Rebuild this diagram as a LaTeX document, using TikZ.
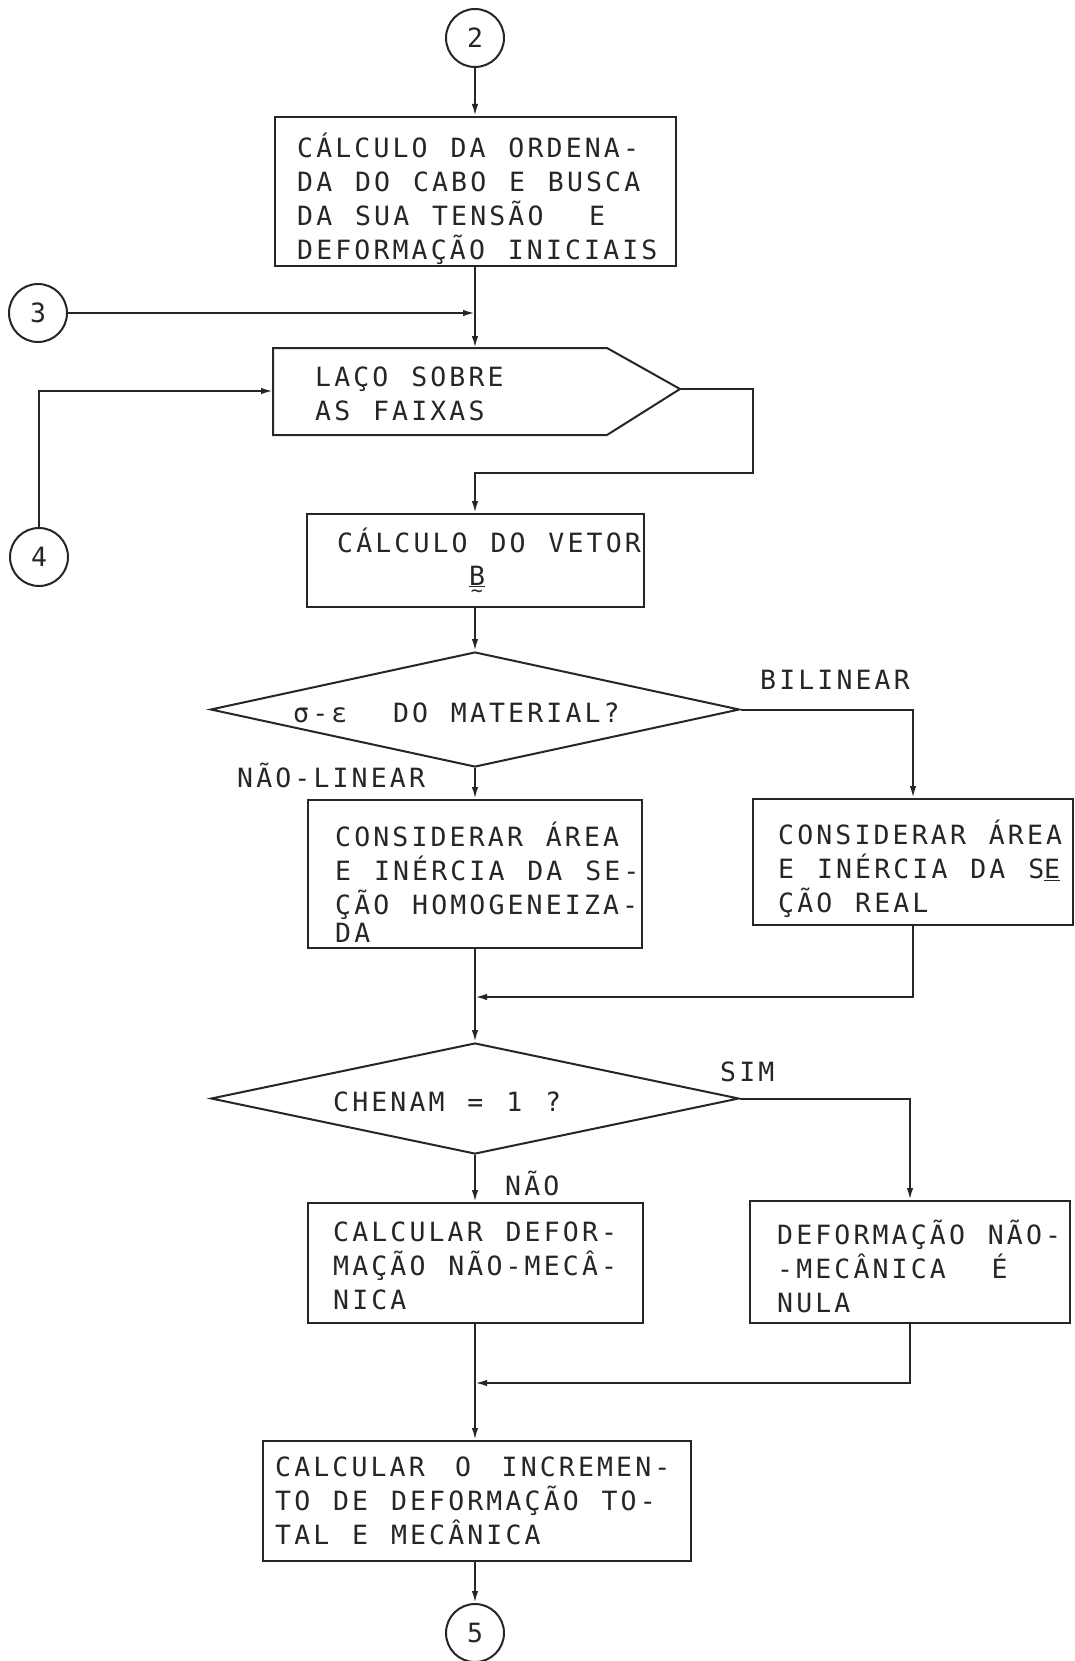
\documentclass[tikz,border=0pt]{standalone}
\usepackage{fontspec}
\newfontfamily\tw{DejaVu Sans Mono}[LetterSpace=11.85,WordSpace={1.197,0,0}]
\usetikzlibrary{shapes.geometric,arrows.meta}
\definecolor{ink}{HTML}{262626}
\begin{document}
\begin{tikzpicture}[x=1pt,y=-1pt,
  every node/.style={font={\tw\fontsize{26.5}{34}\selectfont}, text=ink},
  conn/.style={draw=ink, line width=2pt},
  arr/.style={conn, -{Latex[length=12pt,width=6.5pt]}},
  box/.style={draw=ink, line width=2pt, rectangle, inner sep=0pt},
  dec/.style={draw=ink, line width=2pt, diamond, inner sep=0pt},
  con/.style={draw=ink, line width=2pt, circle, inner sep=0pt, minimum size=58pt},
  txt/.style={anchor=west, inner sep=0pt, align=left},
  lbl/.style={anchor=west, inner sep=0pt}]
\fill[white] (0,0) rectangle (1075,1661);
\useasboundingbox (0,0) rectangle (1075,1661);

% nodes
\node[con] (c2) at (475,38) {2};
\node[box, minimum width=401, minimum height=149] (b1) at (475,191.5) {};
\node[txt] (b1t) at (297,199) {CÁLCULO DA ORDENA-\\DA DO CABO E BUSCA\\DA SUA TENSÃO\ \ E\\DEFORMAÇÃO INICIAIS};

\node[con] (c3) at (38,313) {3};

\coordinate (lacoNW) at (273,348);
\coordinate (lacoNE) at (607,348);
\coordinate (lacoE) at (680,389);
\coordinate (lacoSE) at (607,435);
\coordinate (lacoSW) at (273,435);
\coordinate (lacoN) at (475,348);
\coordinate (lacoW) at (273,391);
\draw[conn, line join=miter] (lacoNW) -- (lacoNE) -- (lacoE) -- (lacoSE) -- (lacoSW) -- cycle;
\node[txt] (lacot) at (315,393.5) {LAÇO SOBRE\\AS FAIXAS};

\node[con] (c4) at (39,557) {4};

\node[box, minimum width=337, minimum height=93] (bb) at (475,560.5) {};
\node[lbl] (bbt) at (337,540) {CÁLCULO DO VETOR};
\node[inner sep=0pt, anchor=north] (bbv) at (477,565.5) {\shortstack{\underline{B}\\{\fontsize{20}{20}\selectfont\textasciitilde}}};

\node[dec, minimum width=529, minimum height=115] (d1) at (475,709.5) {};
\node[lbl] (d1t) at (293,713) {σ-ε\ \ DO MATERIAL?};
\node[lbl] (l1) at (760,680) {BILINEAR};
\node[lbl] (l2) at (237,775) {NÃO-LINEAR};

\node[box, minimum width=334, minimum height=148] (nl) at (475,874) {};
\node[txt] (nlt) at (335,882.5) {CONSIDERAR ÁREA\\E INÉRCIA DA SE-\\ÇÃO HOMOGENEIZA-\\[-6pt]DA};

\node[box, minimum width=320, minimum height=126] (bl) at (913,862) {};
\node[txt] (blt) at (778,869) {CONSIDERAR ÁREA\\E INÉRCIA DA S\underline{E}\\ÇÃO REAL};

\node[dec, minimum width=528, minimum height=111] (d2) at (475,1098.5) {};
\node[lbl] (d2t) at (333,1102) {CHENAM = 1 ?};
\node[lbl] (l3) at (720,1072) {SIM};
\node[lbl] (l4) at (505,1183) {NÃO};

\node[box, minimum width=335, minimum height=120] (cd) at (475,1263) {};
\node[txt] (cdt) at (333,1265.5) {CALCULAR DEFOR-\\MAÇÃO NÃO-MECÂ-\\NICA};

\node[box, minimum width=320, minimum height=122] (dn) at (910,1262) {};
\node[txt] (dnt) at (777,1266.5) {DEFORMAÇÃO NÃO-\\-MECÂNICA\ \ É\\NULA};

\node[box, minimum width=428, minimum height=120] (ci) at (477,1501) {};
\node[txt] (cit) at (275,1500.5) {CALCULAR\hspace{7.6pt} O\hspace{7.6pt} INCREMEN-\\TO DE DEFORMAÇÃO TO-\\TAL E MECÂNICA};

\node[con] (c5) at (475,1633) {5};

% connectors
\draw[arr] (c2.south) -- (c2.south |- b1.north);
\draw[arr] (b1.south) -- (lacoN);
\draw[arr] (c3.east) -- (c3.east -| b1.south);
\draw[arr] (c4.north) |- (lacoW);
\coordinate (r1) at (753,473);
\draw[arr] (lacoE) -| (r1) -| (bb.north);
\draw[arr] (bb.south) -- (d1.north);
\draw[arr] (d1.south) -- (nl.north);
\draw[arr] (d1.east) -| (bl.north);
\coordinate (j1) at (475,997);
\draw[arr] (nl.south) -- (d2.north);
\draw[arr] (bl.south) |- (j1);
\draw[arr] (d2.south) -- (cd.north);
\draw[arr] (d2.east) -| (dn.north);
\coordinate (j2) at (475,1383);
\draw[arr] (cd.south) -- (cd.south |- ci.north);
\draw[arr] (dn.south) |- (j2);
\draw[arr] (c5.north |- ci.south) -- (c5.north);
\end{tikzpicture}
\end{document}
